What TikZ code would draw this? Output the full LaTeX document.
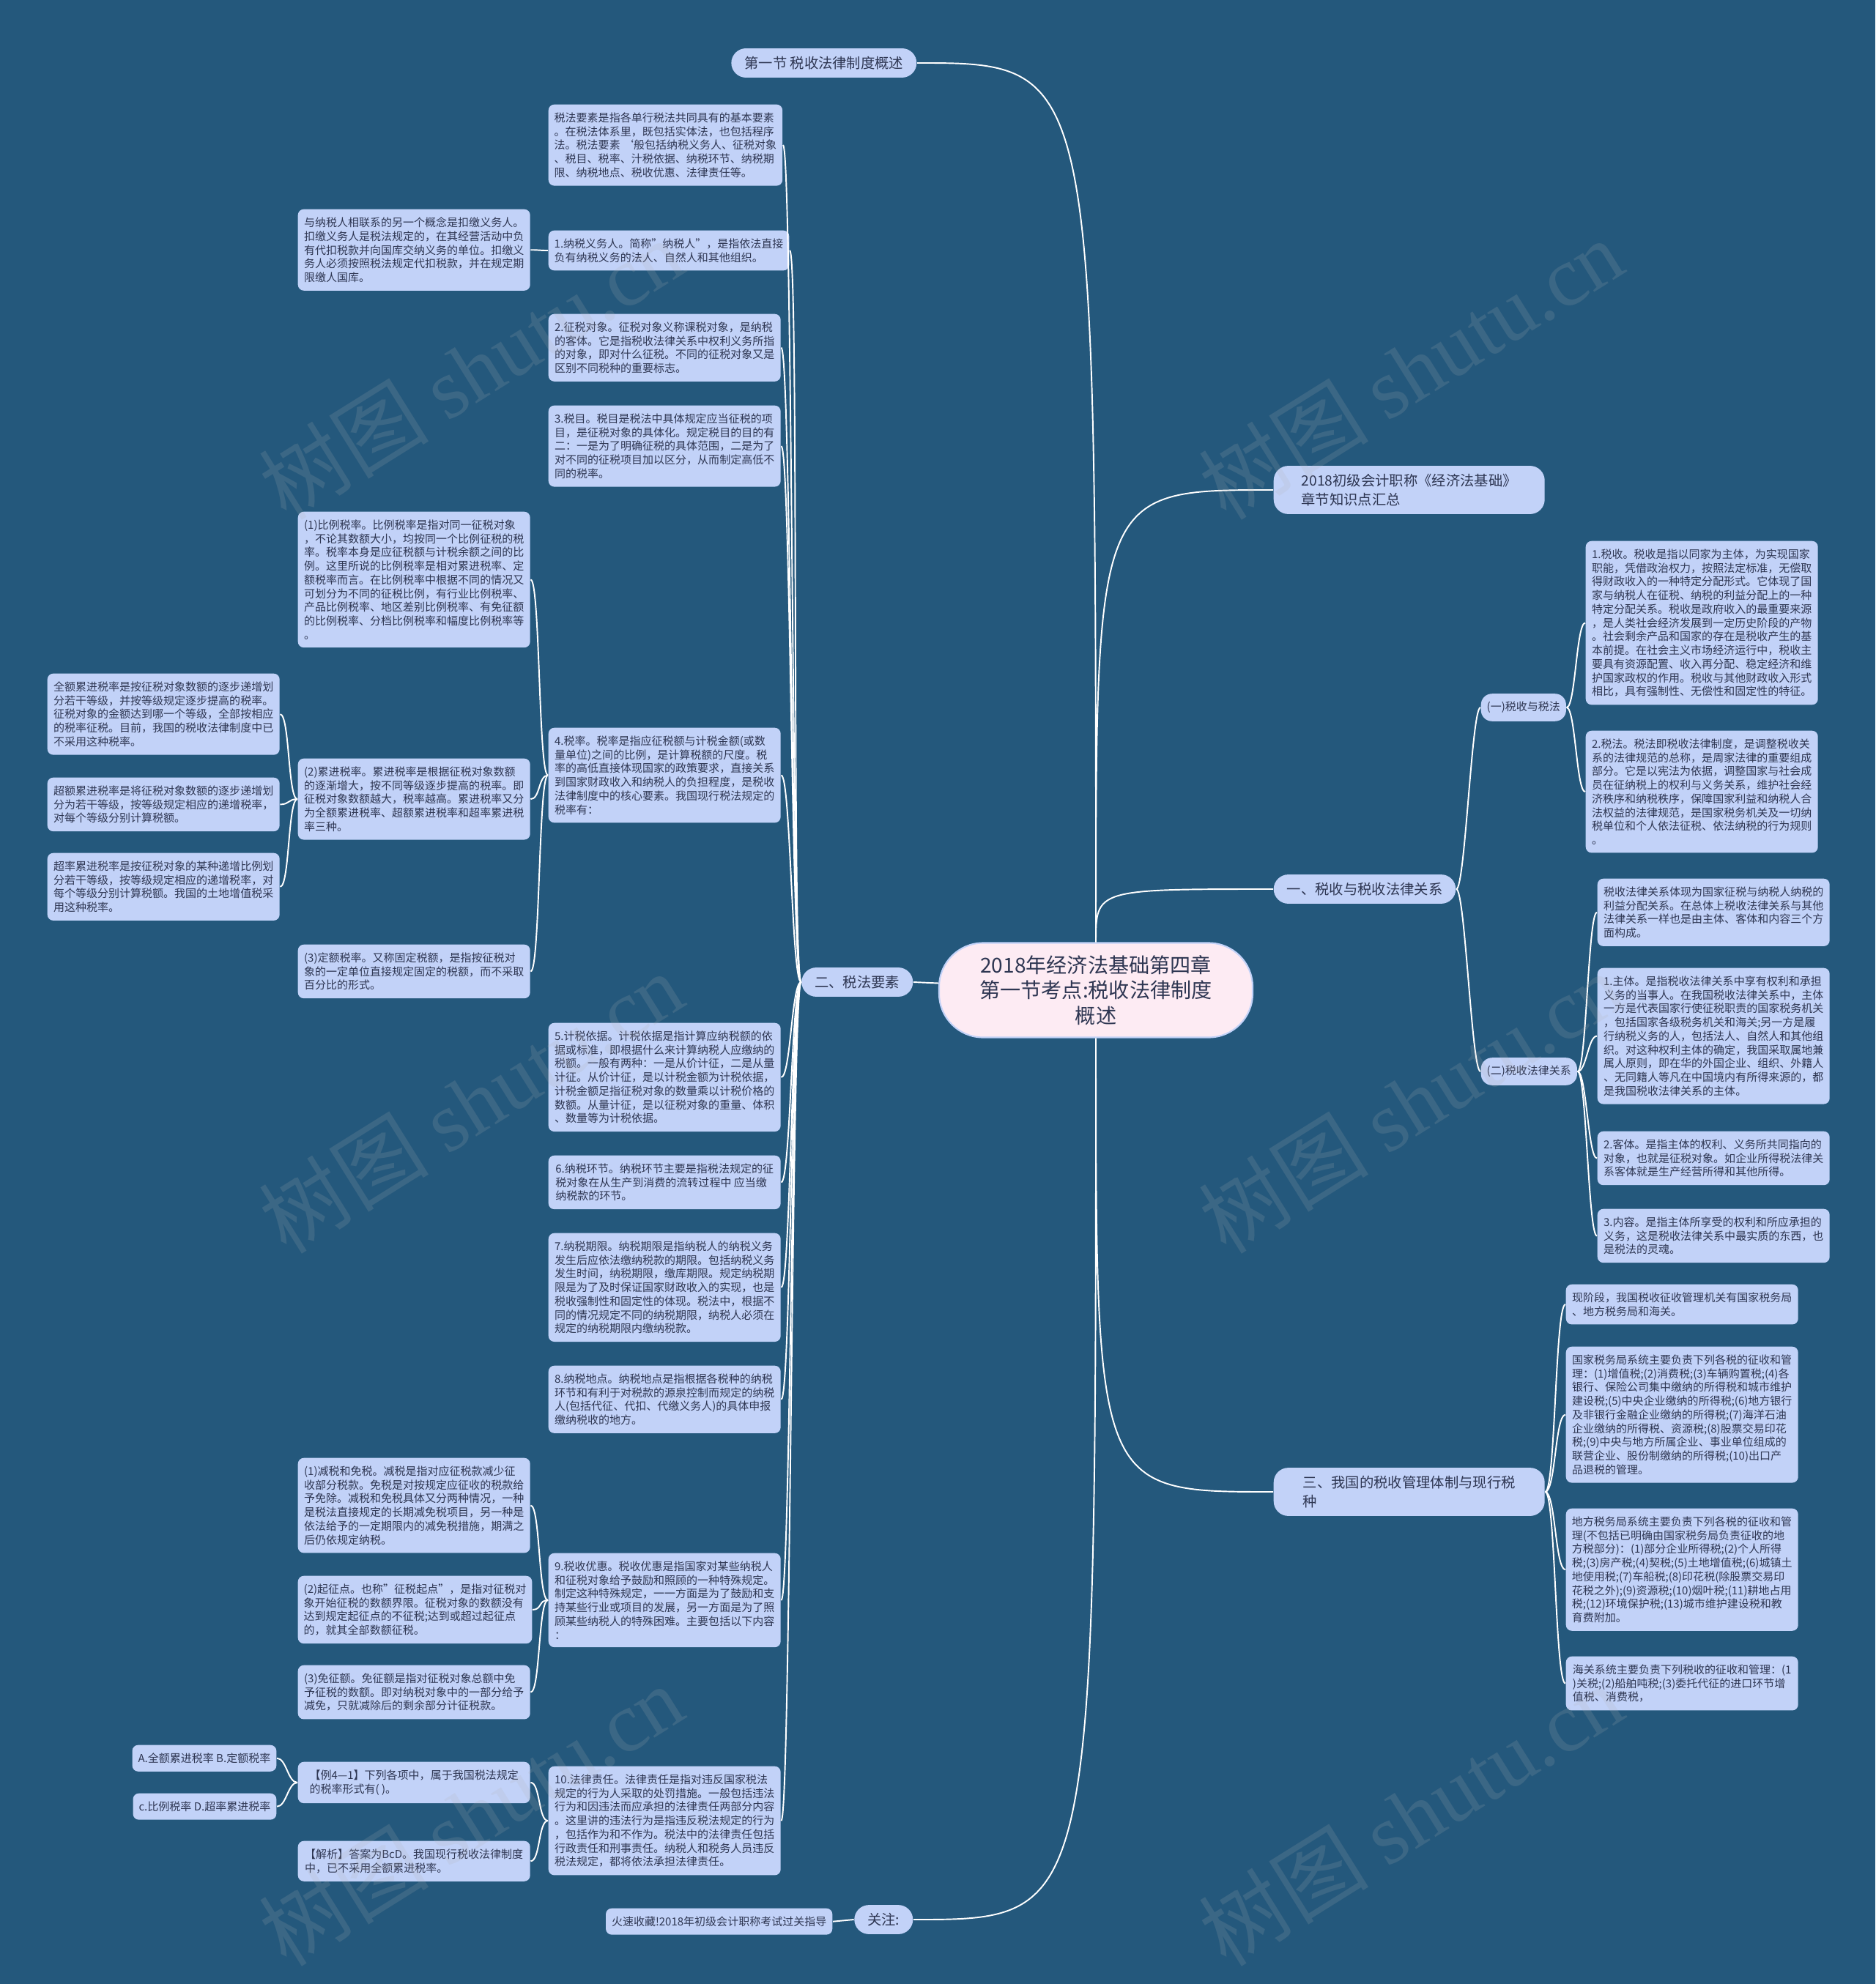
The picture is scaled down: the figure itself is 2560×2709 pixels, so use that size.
\documentclass[tikz,border=0pt]{standalone}
\usepackage{fontspec}
\setmainfont{Noto Sans CJK SC}
\newfontfamily\wmfont{Liberation Serif}
\definecolor{bgblue}{HTML}{24587C}
\definecolor{boxblue}{HTML}{C2D2F8}
\definecolor{inkc}{HTML}{2E3652}
\definecolor{rootpink}{HTML}{FDEBF3}
\tikzset{txtbox/.style={fill=boxblue,text=inkc,rounded corners=0.8mm,align=left,minimum width=31.7mm,inner xsep=0.8mm,inner ysep=1.1mm,font=\fontsize{4.27pt}{5.33pt}\selectfont},
tagbox/.style={txtbox,minimum width=0pt},
pill/.style={fill=boxblue,text=inkc,rounded corners=2mm,align=left,inner xsep=1.8mm,inner ysep=1.1mm,font=\fontsize{5.5pt}{7.4pt}\selectfont},
rootbox/.style={fill=rootpink,draw=boxblue,line width=0.6pt,text=inkc,rounded corners=6mm,align=center,minimum width=42.8mm,minimum height=12.9mm,font=\fontsize{8pt}{9.8pt}\selectfont},
link/.style={white,line width=0.55pt},
wmark/.style={gray!60,opacity=0.17,font=\fontsize{33pt}{38pt}\selectfont}}

\begin{document}
\begin{tikzpicture}[x=0.1mm,y=-0.1mm]
\fill[bgblue] (0,0) rectangle (2560,2709);\useasboundingbox (0,0) rectangle (2560,2709);
% branch pills
\node[pill,anchor=east] (sec) at (1252,86) {第一节 税收法律制度概述};
\node[pill,anchor=east] (elem) at (1247,1341) {二、税法要素};
\node[pill,anchor=east] (follow) at (1247,2621) {关注:};
\node[pill,anchor=west,minimum width=37mm] (summ) at (1738,669) {2018初级会计职称《经济法基础》\\章节知识点汇总};
\node[pill,anchor=west] (rel) at (1738,1214) {一、税收与税收法律关系};
\node[pill,anchor=west,minimum width=37mm] (mgmt) at (1738,2037) {三、我国的税收管理体制与现行税\\种};
\node[tagbox,anchor=west,rounded corners=1.5mm] (tax) at (2021,966) {(一)税收与税法};
\node[tagbox,anchor=west,rounded corners=1.5mm] (law) at (2021,1463) {(二)税收法律关系};

% tax elements column
\node[txtbox,anchor=north west] (intro) at (748,142) {税法要素是指各单行税法共同具有的基本要素\\。在税法体系里，既包括实体法，也包括程序\\法。税法要素 ‘般包括纳税义务人、征税对象\\、税目、税率、汁税依据、纳税环节、纳税期\\限、纳税地点、税收优惠、法律责任等。};
\node[txtbox,anchor=north west] (e1) at (748,314) {1.纳税义务人。简称"纳税人"，是指依法直接\\负有纳税义务的法人、自然人和其他组织。};
\node[txtbox,anchor=north west] (e2) at (748,428) {2.征税对象。征税对象义称课税对象，是纳税\\的客体。它是指税收法律关系中权利义务所指\\的对象，即对什么征税。不同的征税对象又是\\区别不同税种的重要标志。};
\node[txtbox,anchor=north west] (e3) at (748,553) {3.税目。税目是税法中具体规定应当征税的项\\目，是征税对象的具体化。规定税目的目的有\\二：一是为了明确征税的具体范围，二是为了\\对不同的征税项目加以区分，从而制定高低不\\同的税率。};
\node[txtbox,anchor=north west] (e4) at (748,993) {4.税率。税率是指应征税额与计税金额(或数\\量单位)之间的比例，是计算税额的尺度。税\\率的高低直接体现国家的政策要求，直接关系\\到国家财政收入和纳税人的负担程度，是税收\\法律制度中的核心要素。我国现行税法规定的\\税率有：};
\node[txtbox,anchor=north west] (e5) at (748,1396) {5.计税依据。计税依据是指计算应纳税额的依\\据或标准，即根据什么来计算纳税人应缴纳的\\税额。一般有两种：一是从价计征，二是从量\\计征。从价计征，是以计税金额为计税依据，\\计税金额足指征税对象的数量乘以计税价格的\\数额。从量计征，是以征税对象的重量、体积\\、数量等为计税依据。};
\node[txtbox,anchor=north west] (e6) at (748,1577) {6.纳税环节。纳税环节主要是指税法规定的征\\税对象在从生产到消费的流转过程中 应当缴\\纳税款的环节。};
\node[txtbox,anchor=north west] (e7) at (748,1683) {7.纳税期限。纳税期限是指纳税人的纳税义务\\发生后应依法缴纳税款的期限。包括纳税义务\\发生时间，纳税期限，缴库期限。规定纳税期\\限是为了及时保证国家财政收入的实现，也是\\税收强制性和固定性的体现。税法中，根据不\\同的情况规定不同的纳税期限，纳税人必须在\\规定的纳税期限内缴纳税款。};
\node[txtbox,anchor=north west] (e8) at (748,1864) {8.纳税地点。纳税地点是指根据各税种的纳税\\环节和有利于对税款的源泉控制而规定的纳税\\人(包括代征、代扣、代缴义务人)的具体申报\\缴纳税收的地方。};
\node[txtbox,anchor=north west] (e9) at (748,2120) {9.税收优惠。税收优惠是指国家对某些纳税人\\和征税对象给予鼓励和照顾的一种特殊规定。\\制定这种特殊规定，一一方面是为了鼓励和支\\持某些行业或项目的发展，另一方面是为了照\\顾某些纳税人的特殊困难。主要包括以下内容\\：};
\node[txtbox,anchor=north west] (e10) at (748,2411) {10.法律责任。法律责任是指对违反国家税法\\规定的行为人采取的处罚措施。一般包括违法\\行为和因违法而应承担的法律责任两部分内容\\。这里讲的违法行为是指违反税法规定的行为\\，包括作为和不作为。税法中的法律责任包括\\行政责任和刑事责任。纳税人和税务人员违反\\税法规定，都将依法承担法律责任。};

% second and third columns
\node[txtbox,anchor=north west] (wh) at (406,285) {与纳税人相联系的另一个概念是扣缴义务人。\\扣缴义务人是税法规定的，在其经营活动中负\\有代扣税款并向国库交纳义务的单位。扣缴义\\务人必须按照税法规定代扣税款，并在规定期\\限缴人国库。};
\node[txtbox,anchor=north west] (rate1) at (406,698) {(1)比例税率。比例税率是指对同一征税对象\\，不论其数额大小，均按同一个比例征税的税\\率。税率本身是应征税额与计税余额之间的比\\例。这里所说的比例税率是相对累进税率、定\\额税率而言。在比例税率中根据不同的情况又\\可划分为不同的征税比例，有行业比例税率、\\产品比例税率、地区差别比例税率、有免征额\\的比例税率、分档比例税率和幅度比例税率等\\。};
\node[txtbox,anchor=north west] (rate2) at (406,1035) {(2)累进税率。累进税率是根据征税对象数额\\的逐渐增大，按不同等级逐步提高的税率。即\\征税对象数额越大，税率越高。累进税率又分\\为全额累进税率、超额累进税率和超率累进税\\率三种。};
\node[txtbox,anchor=north west] (rate3) at (406,1289) {(3)定额税率。又称固定税额，是指按征税对\\象的一定单位直接规定固定的税额，而不采取\\百分比的形式。};
\node[txtbox,anchor=north west] (prog1) at (64,919) {全额累进税率是按征税对象数额的逐步递增划\\分若干等级，并按等级规定逐步提高的税率。\\征税对象的金额达到哪一个等级，全部按相应\\的税率征税。目前，我国的税收法律制度中已\\不采用这种税率。};
\node[txtbox,anchor=north west] (prog2) at (64,1061) {超额累进税率是将征税对象数额的逐步递增划\\分为若干等级，按等级规定相应的递增税率，\\对每个等级分别计算税额。};
\node[txtbox,anchor=north west] (prog3) at (64,1164) {超率累进税率是按征税对象的某种递增比例划\\分若干等级，按等级规定相应的递增税率，对\\每个等级分别计算税额。我国的土地增值税采\\用这种税率。};
\node[txtbox,anchor=north west] (pref1) at (406,1990) {(1)减税和免税。减税是指对应征税款减少征\\收部分税款。免税是对按规定应征收的税款给\\予免除。减税和免税具体又分两种情况，一种\\是税法直接规定的长期减免税项目，另一种是\\依法给予的一定期限内的减免税措施，期满之\\后仍依规定纳税。};
\node[txtbox,anchor=north west] (pref2) at (406,2151) {(2)起征点。也称"征税起点"，是指对征税对\\象开始征税的数额界限。征税对象的数额没有\\达到规定起征点的不征税;达到或超过起征点\\的，就其全部数额征税。};
\node[txtbox,anchor=north west] (pref3) at (406,2273) {(3)免征额。免征额是指对征税对象总额中免\\予征税的数额。即对纳税对象中的一部分给予\\减免，只就减除后的剩余部分计征税款。};
\node[txtbox,anchor=north west] (ex) at (406,2405) {【例4—1】下列各项中，属于我国税法规定\\的税率形式有( )。};
\node[txtbox,anchor=north west] (exans) at (406,2513) {【解析】答案为BcD。我国现行税收法律制度\\中，已不采用全额累进税率。};
\node[tagbox,anchor=north east] (optab) at (378,2382) {A.全额累进税率 B.定额税率};
\node[tagbox,anchor=north east] (optcd) at (378,2448) {c.比例税率 D.超率累进税率};
\node[tagbox,anchor=north east] (hot) at (1137,2605) {火速收藏!2018年初级会计职称考试过关指导};

% right side
\node[txtbox,anchor=north west] (taxdef) at (2164,738) {1.税收。税收是指以同家为主体，为实现国家\\职能，凭借政治权力，按照法定标准，无偿取\\得财政收入的一种特定分配形式。它体现了国\\家与纳税人在征税、纳税的利益分配上的一种\\特定分配关系。税收是政府收入的最重要来源\\，是人类社会经济发展到一定历史阶段的产物\\。社会剩余产品和国家的存在是税收产生的基\\本前提。在社会主义市场经济运行中，税收主\\要具有资源配置、收入再分配、稳定经济和维\\护国家政权的作用。税收与其他财政收入形式\\相比，具有强制性、无偿性和固定性的特征。};
\node[txtbox,anchor=north west] (lawdef) at (2164,997) {2.税法。税法即税收法律制度，是调整税收关\\系的法律规范的总称，是周家法律的重要组成\\部分。它是以宪法为依据，调整国家与社会成\\员在征纳税上的权利与义务关系，维护社会经\\济秩序和纳税秩序，保障国家利益和纳税人合\\法权益的法律规范，是国家税务机关及一切纳\\税单位和个人依法征税、依法纳税的行为规则\\。};
\node[txtbox,anchor=north west] (relintro) at (2180,1199) {税收法律关系体现为国家征税与纳税人纳税的\\利益分配关系。在总体上税收法律关系与其他\\法律关系一样也是由主体、客体和内容三个方\\面构成。};
\node[txtbox,anchor=north west] (subj) at (2180,1321) {1.主体。是指税收法律关系中享有权利和承担\\义务的当事人。在我国税收法律关系中，主体\\一方是代表国家行使征税职责的国家税务机关\\，包括国家各级税务机关和海关;另一方是履\\行纳税义务的人，包括法人、自然人和其他组\\织。对这种权利主体的确定，我国采取属地兼\\属人原则，即在华的外国企业、组织、外籍人\\、无同籍人等凡在中国境内有所得来源的，都\\是我国税收法律关系的主体。};
\node[txtbox,anchor=north west] (obj) at (2180,1544) {2.客体。是指主体的权利、义务所共同指向的\\对象，也就是征税对象。如企业所得税法律关\\系客体就是生产经营所得和其他所得。};
\node[txtbox,anchor=north west] (cont) at (2180,1650) {3.内容。是指主体所享受的权利和所应承担的\\义务，这是税收法律关系中最实质的东西，也\\是税法的灵魂。};
\node[txtbox,anchor=north west] (organ) at (2137,1753) {现阶段，我国税收征收管理机关有国家税务局\\、地方税务局和海关。};
\node[txtbox,anchor=north west] (natl) at (2137,1838) {国家税务局系统主要负责下列各税的征收和管\\理：(1)增值税;(2)消费税;(3)车辆购置税;(4)各\\银行、保险公司集中缴纳的所得税和城市维护\\建设税;(5)中央企业缴纳的所得税;(6)地方银行\\及非银行金融企业缴纳的所得税;(7)海洋石油\\企业缴纳的所得税、资源税;(8)股票交易印花\\税;(9)中央与地方所属企业、事业单位组成的\\联营企业、股份制缴纳的所得税;(10)出口产\\品退税的管理。};
\node[txtbox,anchor=north west] (local) at (2137,2059) {地方税务局系统主要负责下列各税的征收和管\\理(不包括已明确由国家税务局负责征收的地\\方税部分)：(1)部分企业所得税;(2)个人所得\\税;(3)房产税;(4)契税;(5)土地增值税;(6)城镇土\\地使用税;(7)车船税;(8)印花税(除股票交易印\\花税之外);(9)资源税;(10)烟叶税;(11)耕地占用\\税;(12)环境保护税;(13)城市维护建设税和教\\育费附加。};
\node[txtbox,anchor=north west] (cust) at (2137,2261) {海关系统主要负责下列税收的征收和管理：(1\\)关税;(2)船舶吨税;(3)委托代征的进口环节增\\值税、消费税，};

\node[rootbox] (root) at (1496,1352) {2018年经济法基础第四章\\第一节考点:税收法律制度\\概述};

% connectors from the root
\draw[link] (root) .. controls (root |- sec.east) .. (sec.east);\draw[link] (root) -- (elem.east);
\draw[link] (root) .. controls (root |- follow.east) .. (follow.east);
\draw[link] (root) .. controls (root |- summ.west) .. (summ.west);\draw[link] (root) .. controls (root |- rel.west) .. (rel.west);
\draw[link] (root) .. controls (root |- mgmt.west) .. (mgmt.west);
% left side
\draw[link] (intro.east) .. controls +(13,0) and +(-13,0) .. (elem.west);\draw[link] (e1.east) .. controls +(13,0) and +(-13,0) .. (elem.west);
\draw[link] (e2.east) .. controls +(13,0) and +(-13,0) .. (elem.west);\draw[link] (e3.east) .. controls +(13,0) and +(-13,0) .. (elem.west);
\draw[link] (e4.east) .. controls +(13,0) and +(-13,0) .. (elem.west);\draw[link] (e5.east) .. controls +(13,0) and +(-13,0) .. (elem.west);
\draw[link] (e6.east) .. controls +(13,0) and +(-13,0) .. (elem.west);\draw[link] (e7.east) .. controls +(13,0) and +(-13,0) .. (elem.west);
\draw[link] (e8.east) .. controls +(13,0) and +(-13,0) .. (elem.west);\draw[link] (e9.east) .. controls +(13,0) and +(-13,0) .. (elem.west);
\draw[link] (e10.east) .. controls +(13,0) and +(-13,0) .. (elem.west);
\draw[link] (wh.east) .. controls +(13,0) and +(-13,0) .. (e1.west);
\draw[link] (rate1.east) .. controls +(13,0) and +(-13,0) .. (e4.west);\draw[link] (rate2.east) .. controls +(13,0) and +(-13,0) .. (e4.west);
\draw[link] (rate3.east) .. controls +(13,0) and +(-13,0) .. (e4.west);
\draw[link] (prog1.east) .. controls +(13,0) and +(-13,0) .. (rate2.west);\draw[link] (prog2.east) .. controls +(13,0) and +(-13,0) .. (rate2.west);
\draw[link] (prog3.east) .. controls +(13,0) and +(-13,0) .. (rate2.west);
\draw[link] (pref1.east) .. controls +(13,0) and +(-13,0) .. (e9.west);\draw[link] (pref2.east) .. controls +(13,0) and +(-13,0) .. (e9.west);
\draw[link] (pref3.east) .. controls +(13,0) and +(-13,0) .. (e9.west);
\draw[link] (ex.east) .. controls +(13,0) and +(-13,0) .. (e10.west);\draw[link] (exans.east) .. controls +(13,0) and +(-13,0) .. (e10.west);
\draw[link] (optab.east) .. controls +(13,0) and +(-13,0) .. (ex.west);\draw[link] (optcd.east) .. controls +(13,0) and +(-13,0) .. (ex.west);
\draw[link] (hot.east) -- (follow.west);
% right side
\draw[link] (rel.east) .. controls +(12,0) and +(-12,0) .. (tax.west);\draw[link] (rel.east) .. controls +(12,0) and +(-12,0) .. (law.west);
\draw[link] (tax.east) .. controls +(12,0) and +(-12,0) .. (taxdef.west);\draw[link] (tax.east) .. controls +(12,0) and +(-12,0) .. (lawdef.west);
\draw[link] (law.east) .. controls +(12,0) and +(-12,0) .. (relintro.west);\draw[link] (law.east) .. controls +(12,0) and +(-12,0) .. (subj.west);
\draw[link] (law.east) .. controls +(12,0) and +(-12,0) .. (obj.west);\draw[link] (law.east) .. controls +(12,0) and +(-12,0) .. (cont.west);
\draw[link] (mgmt.east) .. controls +(14,0) and +(-14,0) .. (organ.west);\draw[link] (mgmt.east) .. controls +(14,0) and +(-14,0) .. (natl.west);
\draw[link] (mgmt.east) .. controls +(14,0) and +(-14,0) .. (local.west);\draw[link] (mgmt.east) .. controls +(14,0) and +(-14,0) .. (cust.west);

% watermarks
\node[wmark,rotate=32] (wm1) at (643,504) {树图 {\wmfont shutu.cn}};\node[wmark,rotate=32] (wm2) at (1926,504) {树图 {\wmfont shutu.cn}};
\node[wmark,rotate=32] (wm3) at (643,1505) {树图 {\wmfont shutu.cn}};\node[wmark,rotate=32] (wm4) at (1926,1505) {树图 {\wmfont shutu.cn}};
\node[wmark,rotate=32] (wm5) at (643,2478) {树图 {\wmfont shutu.cn}};\node[wmark,rotate=32] (wm6) at (1926,2478) {树图 {\wmfont shutu.cn}};
\end{tikzpicture}
\end{document}
